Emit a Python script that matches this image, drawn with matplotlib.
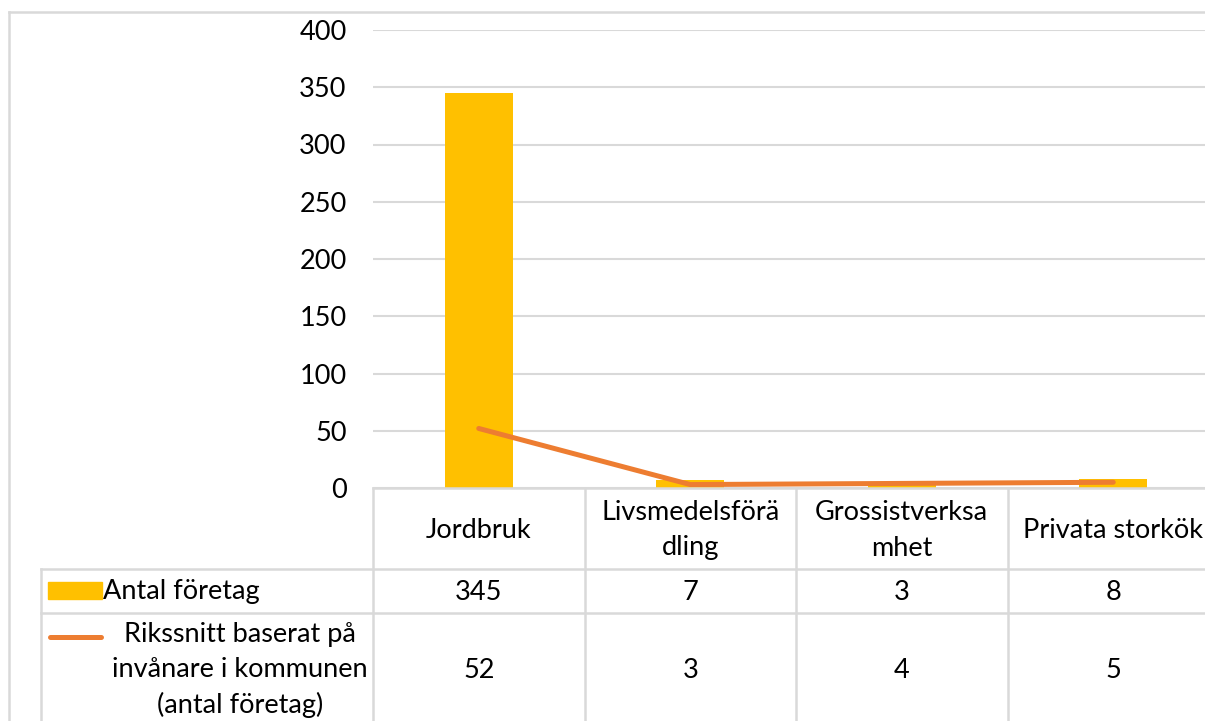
import matplotlib
matplotlib.use("Agg")
import matplotlib.pyplot as plt
import matplotlib.transforms as mtransforms
from matplotlib.lines import Line2D
from matplotlib.patches import Rectangle

categories = ["Jordbruk", "Livsmedelsförä\ndling", "Grossistverksa\nmhet", "Privata storkök"]
antal_foretag = [345, 7, 3, 8]
rikssnitt = [52, 3, 4, 5]
bar_label = "Antal företag"
line_label = "Rikssnitt baserat på\ninvånare i kommunen\n(antal företag)"
yticks = [0, 50, 100, 150, 200, 250, 300, 350, 400]

BAR_COLOR = "#FFC000"
LINE_COLOR = "#ED7D31"
GRID_COLOR = "#D9D9D9"
FONT = "Lato"
FS = 19.5

W, H = 1205, 721
fig = plt.figure(figsize=(W / 100, H / 100), dpi=100)


def fy(px):
    # pixel row (from top) -> figure fraction
    return 1 - px / H


def fx(px):
    return px / W


ax_left, ax_right = 373, 1219
ax_top, ax_bottom = 30, 488
ax = fig.add_axes([fx(ax_left), fy(ax_bottom), fx(ax_right - ax_left), (ax_bottom - ax_top) / H])

x = list(range(len(categories)))
ax.bar(x, antal_foretag, width=0.32, color=BAR_COLOR, zorder=2)
ax.plot(x, rikssnitt, color=LINE_COLOR, lw=3.6, solid_capstyle="round", zorder=3)

ax.set_xlim(-0.5, len(categories) - 0.5)
ax.set_ylim(0, 400)
ax.set_yticks(yticks)
ax.set_yticklabels([str(t) for t in yticks], fontsize=FS, family=FONT)
ax.tick_params(axis="y", length=0, pad=19)
ax.tick_params(axis="x", bottom=False, labelbottom=False)
ax.yaxis.grid(True, color=GRID_COLOR, lw=1.5)
ax.set_axisbelow(True)
for s in ax.spines.values():
    s.set_visible(False)

# data table under the plot
trans = mtransforms.blended_transform_factory(ax.transData, fig.transFigure)
row_lines = [488, 569, 613]
row2_bottom = 740
edges = [i - 0.5 for i in range(len(categories) + 1)]
gl = dict(color=GRID_COLOR, lw=1.8, clip_on=False)

# horizontal lines
fig.add_artist(Line2D([edges[0], edges[-1]], [fy(488), fy(488)], transform=trans, **gl))
for r in row_lines[1:]:
    fig.add_artist(Line2D([fx(41), fx(ax_right)], [fy(r), fy(r)], **gl))
# vertical lines
for e in edges:
    fig.add_artist(Line2D([e, e], [fy(488), fy(row2_bottom)], transform=trans, **gl))
fig.add_artist(Line2D([fx(41), fx(41)], [fy(569), fy(row2_bottom)], **gl))

# outer chart border
fig.add_artist(Line2D([fx(9), fx(9)], [fy(12), fy(H + 10)], **gl))
fig.add_artist(Line2D([fx(9), fx(W + 10)], [fy(12), fy(12)], **gl))

tk = dict(fontsize=FS, family=FONT, ha="center", va="center", color="black")
for i, c in enumerate(categories):
    fig.text(i, fy(530), c, transform=trans, linespacing=1.55, **tk)
    fig.text(i, fy(592), str(antal_foretag[i]), transform=trans, **tk)
    fig.text(i, fy(670), str(rikssnitt[i]), transform=trans, **tk)

# legend keys in table
fig.add_artist(Rectangle((fx(48), fy(599)), fx(54), 17 / H, color=BAR_COLOR, transform=fig.transFigure))
fig.add_artist(Line2D([fx(50), fx(101)], [fy(637), fy(637)], color=LINE_COLOR, lw=3.6,
                      solid_capstyle="round"))
fig.text(fx(103), fy(592), bar_label, fontsize=FS, family=FONT, ha="left", va="center")
fig.text(fx(240), fy(670), line_label, fontsize=FS, family=FONT, ha="center", va="center",
         linespacing=1.5)

fig.savefig("out.png", dpi=100)
